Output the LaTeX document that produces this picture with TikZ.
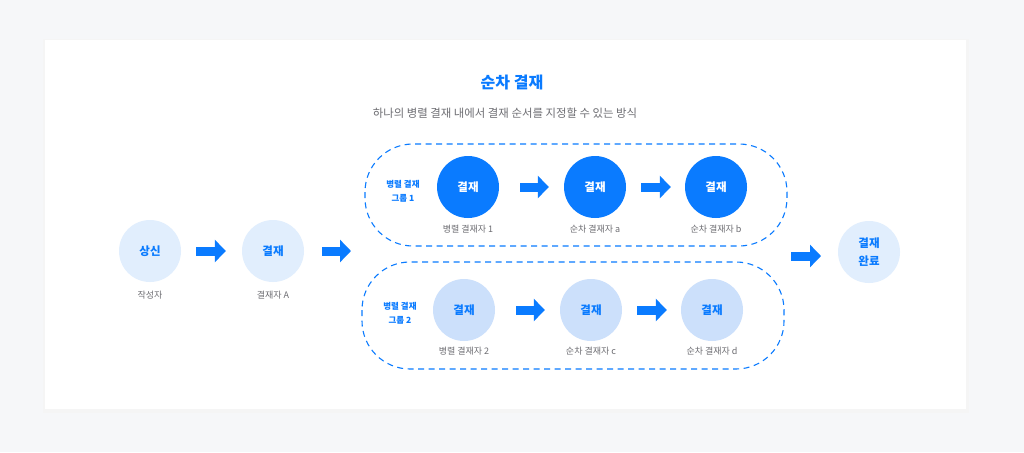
\documentclass[tikz,border=0pt]{standalone}
\usepackage{fontspec}
\setmainfont{Noto Sans CJK KR}
\usetikzlibrary{arrows.meta}
\definecolor{bg}{HTML}{F6F7F9}
\definecolor{blue}{HTML}{0A7BFF}
\definecolor{pale}{HTML}{E1EEFD}
\definecolor{mid}{HTML}{CCE0FB}
\definecolor{grey}{HTML}{6E6E73}
\tikzset{
  circ/.style={circle,minimum size=62pt,inner sep=0pt,font=\fontsize{11.5}{14}\selectfont\bfseries,align=center},
  palec/.style={circ,fill=pale,text=blue},
  midc/.style={circ,fill=mid,text=blue},
  darkc/.style={circ,fill=blue,text=white},
  lbl/.style={font=\fontsize{9}{11}\selectfont,text=grey},
  glbl/.style={font=\fontsize{8.5}{14}\selectfont\bfseries,text=blue,align=center},
  blockarrow/.style={draw=blue,line width=9pt,-{Triangle[length=11pt,width=22pt]}},
  group/.style={draw=blue,line width=1.1pt,dash pattern=on 6pt off 4.5pt,rounded corners=48pt}
}
\begin{document}
\begin{tikzpicture}[x=1pt,y=-1pt]
\useasboundingbox (0,0) rectangle (1024,452);
\fill[bg] (0,0) rectangle (1024,452);
\fill[black!4] (43,39) rectangle (969,413);
\fill[white] (45,40) rectangle (966,409);
\node[font=\fontsize{16}{19}\selectfont\bfseries,text=blue] (title) at (512,83) {순차 결재};
\node[font=\fontsize{11.4}{13}\selectfont,text=grey] (sub) at (505,113) {하나의 병렬 결재 내에서 결재 순서를 지정할 수 있는 방식};
% groups
\draw[group] (365,144) rectangle (787,246);
\draw[group] (362,262) rectangle (784,369);
\node[glbl] (g1) at (403,191) {병렬 결재\\그룹 1};
\node[glbl] (g2) at (400,313) {병렬 결재\\그룹 2};
% nodes
\node[palec] (s) at (150,251) {상신};
\node[palec] (a) at (273,251) {결재};
\node[darkc] (p1) at (468,187) {결재};
\node[darkc] (qa) at (595,187) {결재};
\node[darkc] (qb) at (716,187) {결재};
\node[midc] (p2) at (464,310) {결재};
\node[midc] (qc) at (591,310) {결재};
\node[midc] (qd) at (712,310) {결재};
\node[palec,font=\fontsize{11.5}{18}\selectfont\bfseries] (done) at (869,252) {결재\\완료};
% labels
\node[lbl] at (150,295) {작성자};
\node[lbl] at (273,295) {결재자 A};
\node[lbl] at (468,229) {병렬 결재자 1};
\node[lbl] at (595,229) {순차 결재자 a};
\node[lbl] at (716,229) {순차 결재자 b};
\node[lbl] at (464,351) {병렬 결재자 2};
\node[lbl] at (591,351) {순차 결재자 c};
\node[lbl] at (712,351) {순차 결재자 d};
% arrows
\coordinate (gin) at (351,251);
\coordinate (gout) at (791,256);
\coordinate (dn) at (869,256);
\draw[blockarrow,shorten <=15pt,shorten >=16pt] (s) -- (a);
\draw[blockarrow,shorten <=18pt] (a) -- (gin);
\draw[blockarrow,shorten <=21pt,shorten >=15pt] (p1) -- (qa);
\draw[blockarrow,shorten <=15pt,shorten >=14pt] (qa) -- (qb);
\draw[blockarrow,shorten <=21pt,shorten >=15pt] (p2) -- (qc);
\draw[blockarrow,shorten <=15pt,shorten >=14pt] (qc) -- (qd);
\draw[blockarrow,shorten >=48pt] (gout) -- (dn);
\end{tikzpicture}
\end{document}
